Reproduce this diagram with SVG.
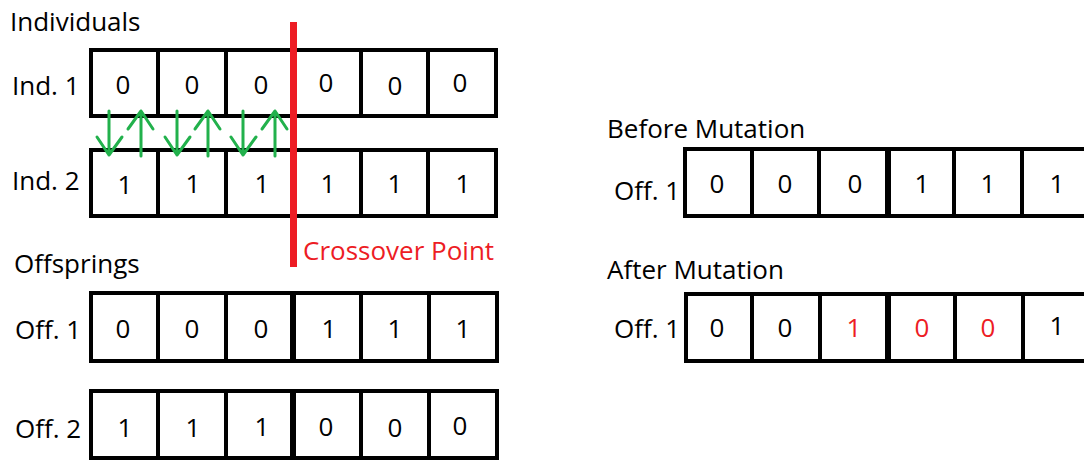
<svg xmlns="http://www.w3.org/2000/svg" width="1084" height="460" viewBox="0 0 1084 460">
  <style>
    text { font-family: "Open Sans", "Liberation Sans", sans-serif; font-size: 26px; fill: #000; }
    .bit { text-anchor: middle; }
    .red { fill: #ed1c24; }
    .frame { fill: #fff; stroke: #000; stroke-width: 4; }
    .div { stroke: #000; stroke-width: 4; }
    .mid { stroke: #000; stroke-width: 6; }
    .swap { stroke: #22b14c; stroke-width: 3; fill: none; stroke-linecap: round; stroke-linejoin: round; }
  </style>
  <rect width="1084" height="460" fill="#fff"/>

  <!-- Section headings -->
  <text x="10" y="31">Individuals</text>
  <text x="14" y="273">Offsprings</text>
  <text x="607" y="138">Before Mutation</text>
  <text x="607" y="279">After Mutation</text>

  <!-- Parent 1 -->
  <g id="ind1">
    <text x="12" y="95">Ind. 1</text>
    <rect class="frame" x="91" y="50" width="405" height="66"/>
    <line class="div" x1="158" y1="50" x2="158" y2="116"/>
    <line class="div" x1="226" y1="50" x2="226" y2="116"/>
    <line class="div" x1="293" y1="50" x2="293" y2="116"/>
    <line class="div" x1="361" y1="50" x2="361" y2="116"/>
    <line class="div" x1="428" y1="50" x2="428" y2="116"/>
    <text class="bit" x="123" y="94">0</text>
    <text class="bit" x="192" y="94">0</text>
    <text class="bit" x="261" y="94">0</text>
    <text class="bit" x="326" y="92">0</text>
    <text class="bit" x="395" y="95">0</text>
    <text class="bit" x="460" y="92">0</text>
  </g>

  <!-- Parent 2 -->
  <g id="ind2">
    <text x="12" y="190">Ind. 2</text>
    <rect class="frame" x="91" y="150" width="405" height="66"/>
    <line class="div" x1="158" y1="150" x2="158" y2="216"/>
    <line class="div" x1="226" y1="150" x2="226" y2="216"/>
    <line class="div" x1="293" y1="150" x2="293" y2="216"/>
    <line class="div" x1="361" y1="150" x2="361" y2="216"/>
    <line class="div" x1="428" y1="150" x2="428" y2="216"/>
    <text class="bit" x="125" y="194">1</text>
    <text class="bit" x="193" y="193">1</text>
    <text class="bit" x="262" y="193">1</text>
    <text class="bit" x="328" y="193">1</text>
    <text class="bit" x="395" y="193">1</text>
    <text class="bit" x="463" y="193">1</text>
  </g>

  <!-- Gene exchange arrows -->
  <g id="connectors">
    <path class="swap" d="M109 111 V155 M97 137 L109 155 L122 137"/>
    <path class="swap" d="M141 156 V111 M128 129 L141 111 L153 129"/>
    <path class="swap" d="M177 111 V155 M165 137 L177 155 L190 137"/>
    <path class="swap" d="M208 156 V111 M195 129 L208 111 L220 129"/>
    <path class="swap" d="M243 111 V155 M231 137 L243 155 L256 137"/>
    <path class="swap" d="M275 156 V111 M262 129 L275 111 L287 129"/>
  </g>

  <!-- Crossover marker -->
  <g id="crossover">
    <rect x="290" y="22" width="7" height="245" fill="#ed1c24"/>
    <text class="red" x="303" y="260">Crossover Point</text>
  </g>

  <!-- Offspring 1 -->
  <g id="off1">
    <text x="15" y="339">Off. 1</text>
    <rect class="frame" x="91" y="293" width="406" height="68"/>
    <line class="div" x1="158" y1="293" x2="158" y2="361"/>
    <line class="div" x1="226" y1="293" x2="226" y2="361"/>
    <line class="mid" x1="293" y1="293" x2="293" y2="361"/>
    <line class="div" x1="361" y1="293" x2="361" y2="361"/>
    <line class="div" x1="429" y1="293" x2="429" y2="361"/>
    <text class="bit" x="123" y="338">0</text>
    <text class="bit" x="192" y="338">0</text>
    <text class="bit" x="261" y="338">0</text>
    <text class="bit" x="329" y="338">1</text>
    <text class="bit" x="395" y="338">1</text>
    <text class="bit" x="463" y="338">1</text>
  </g>

  <!-- Offspring 2 -->
  <g id="off2">
    <text x="15" y="438">Off. 2</text>
    <rect class="frame" x="91" y="391" width="406" height="67"/>
    <line class="div" x1="158" y1="391" x2="158" y2="458"/>
    <line class="div" x1="226" y1="391" x2="226" y2="458"/>
    <line class="mid" x1="293" y1="391" x2="293" y2="458"/>
    <line class="div" x1="361" y1="391" x2="361" y2="458"/>
    <line class="div" x1="429" y1="391" x2="429" y2="458"/>
    <text class="bit" x="125" y="437">1</text>
    <text class="bit" x="193" y="437">1</text>
    <text class="bit" x="262" y="436">1</text>
    <text class="bit" x="326" y="436">0</text>
    <text class="bit" x="395" y="437">0</text>
    <text class="bit" x="460" y="435">0</text>
  </g>

  <!-- Offspring 1 before mutation -->
  <g id="before">
    <text x="614" y="200">Off. 1</text>
    <rect class="frame" x="685" y="149" width="420" height="67"/>
    <line class="div" x1="752" y1="149" x2="752" y2="216"/>
    <line class="div" x1="819" y1="149" x2="819" y2="216"/>
    <line class="mid" x1="888" y1="149" x2="888" y2="216"/>
    <line class="div" x1="954" y1="149" x2="954" y2="216"/>
    <line class="div" x1="1022" y1="149" x2="1022" y2="216"/>
    <text class="bit" x="717" y="193">0</text>
    <text class="bit" x="785" y="193">0</text>
    <text class="bit" x="855" y="193">0</text>
    <text class="bit" x="922" y="193">1</text>
    <text class="bit" x="988" y="193">1</text>
    <text class="bit" x="1057" y="193">1</text>
  </g>

  <!-- Offspring 1 after mutation -->
  <g id="after">
    <text x="614" y="338">Off. 1</text>
    <rect class="frame" x="686" y="294" width="420" height="67"/>
    <line class="div" x1="752" y1="294" x2="752" y2="361"/>
    <line class="div" x1="820" y1="294" x2="820" y2="361"/>
    <line class="mid" x1="888" y1="294" x2="888" y2="361"/>
    <line class="div" x1="955" y1="294" x2="955" y2="361"/>
    <line class="div" x1="1023" y1="294" x2="1023" y2="361"/>
    <text class="bit" x="717" y="337">0</text>
    <text class="bit" x="785" y="337">0</text>
    <text class="bit red" x="854" y="337">1</text>
    <text class="bit red" x="922" y="337">0</text>
    <text class="bit red" x="988" y="337">0</text>
    <text class="bit" x="1057" y="335">1</text>
  </g>
</svg>
